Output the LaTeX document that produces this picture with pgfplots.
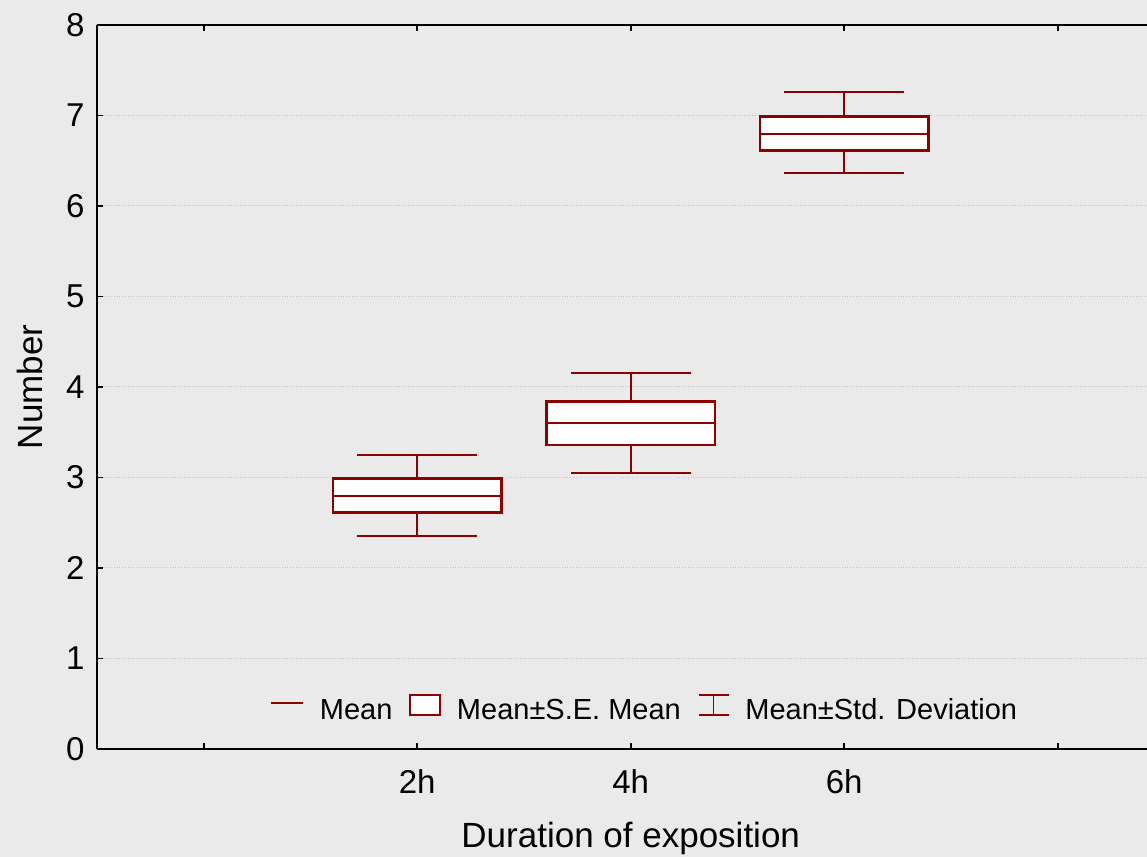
\documentclass[border=0pt]{standalone}
\usepackage{pgfplots}
\pgfplotsset{compat=1.18}
\usepgfplotslibrary{statistics}
\usepackage{fontspec}
\setmainfont{Liberation Sans}
\usepackage{xcolor}
\definecolor{bggray}{RGB}{234,234,234}
\definecolor{darkred}{RGB}{140,0,0}
\pagecolor{bggray}
\begin{document}
\begin{tikzpicture}
\begin{axis}[
  scale only axis,
  width=533.75pt, height=362pt,
  xmin=-0.5, xmax=4.5,
  ymin=0, ymax=8,
  axis x line=box, axis y line=left,
  axis line style={line width=1pt, black, -},
  xtick={0,1,2,3,4},
  xticklabels={,2h,4h,6h,},
  ytick={0,1,...,8},
  tick style={line width=0.9pt, black},
  major tick length=3pt,
  tick align=inside,
  ymajorgrids,
  major grid style={densely dotted, line width=0.5pt, black!22},
  /pgf/number format/assume math mode=true,
  tick label style={font=\fontsize{16.5}{18}\selectfont},
  yticklabel style={anchor=east, inner sep=0pt, xshift=-6pt},
  xticklabel style={anchor=north, inner sep=0pt, yshift=-10pt},
  every axis y label/.style={at={(rel axis cs:0,0.5)}, xshift=-33.5pt, rotate=90, anchor=center, font=\fontsize{17.5}{20}\selectfont},
  every axis x label/.style={at={(rel axis cs:0.5,0)}, yshift=-44.5pt, anchor=center, font=\fontsize{17.5}{20}\selectfont},
  xlabel={Duration of exposition},
  ylabel={Number},
  boxplot/draw direction=y,
  boxplot/every box/.style={draw=darkred, line width=1.4pt, fill=white},
  boxplot/every whisker/.style={draw=darkred, line width=1pt},
  boxplot/every median/.style={draw=darkred, line width=1pt},
  legend style={draw=none, fill=none, at={(rel axis cs:0.514,0.053)}, anchor=center,
    font=\fontsize{14.5}{16}\selectfont, legend columns=3,
    /tikz/every odd column/.style={column sep=6pt},
    /tikz/every even column/.style={column sep=6.5pt}},
]
\addplot+[forget plot, mark=none, draw=darkred, boxplot prepared={draw position=1,
  lower whisker=2.35, lower quartile=2.61, median=2.80, upper quartile=2.99, upper whisker=3.25,
  box extend=0.79, whisker extend=0.56}] coordinates {};
\addplot+[forget plot, mark=none, draw=darkred, boxplot prepared={draw position=2,
  lower whisker=3.05, lower quartile=3.36, median=3.60, upper quartile=3.84, upper whisker=4.15,
  box extend=0.79, whisker extend=0.56}] coordinates {};
\addplot+[forget plot, mark=none, draw=darkred, boxplot prepared={draw position=3,
  lower whisker=6.36, lower quartile=6.61, median=6.80, upper quartile=6.99, upper whisker=7.26,
  box extend=0.79, whisker extend=0.56}] coordinates {};
\addlegendimage{legend image code/.code={\draw[draw=darkred, line width=0.8pt] (0pt,3.75pt) -- (16pt,3.75pt);}}
\addlegendentry{Mean}
\addlegendimage{legend image code/.code={\draw[draw=darkred, fill=white, line width=0.8pt] (0pt,-2.25pt) rectangle (15pt,7.75pt);}}
\addlegendentry{Mean±S.E. Mean}
\addlegendimage{legend image code/.code={\draw[draw=darkred, line width=0.8pt] (0pt,-2.25pt) -- (15pt,-2.25pt) (7.5pt,-2.25pt) -- (7.5pt,7.75pt) (0pt,7.75pt) -- (15pt,7.75pt);}}
\addlegendentry{Mean±Std. Deviation}
\coordinate (bl) at (rel axis cs:0,0);
\end{axis}
\pgfresetboundingbox
\path (bl) ++(-48.5pt,-54pt) rectangle ++(573.5pt,428.5pt);
\end{tikzpicture}
\end{document}
